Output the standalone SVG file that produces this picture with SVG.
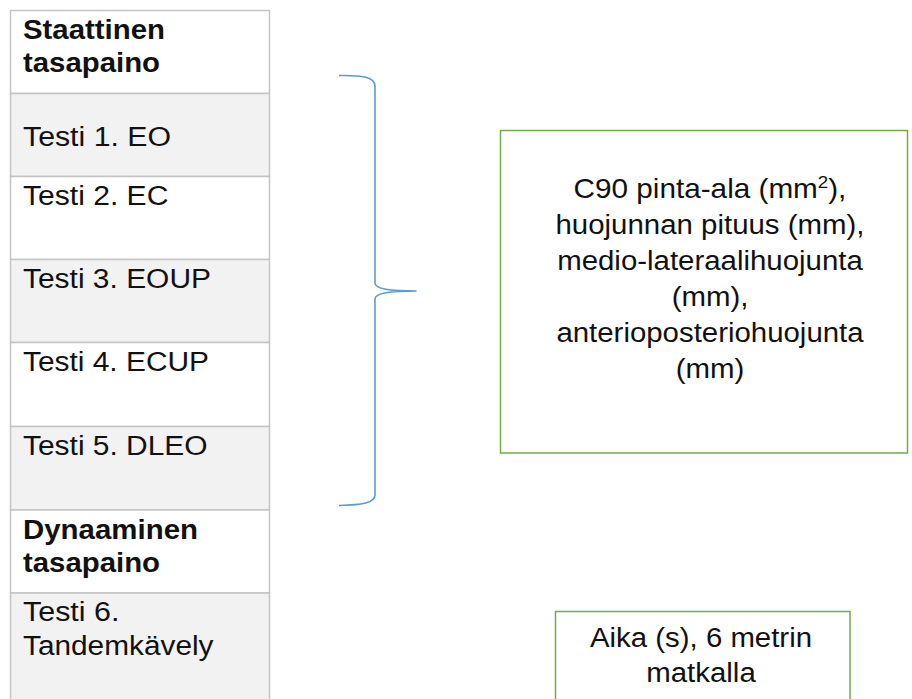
<svg xmlns="http://www.w3.org/2000/svg" width="912" height="699" viewBox="0 0 912 699">
<style>
  .cell { stroke: #c4c4c4; stroke-width: 1.5; }
  .w { fill: #ffffff; }
  .g { fill: #f2f2f2; }
  text { font-family: "Liberation Sans", Arial, sans-serif; font-size: 27px; fill: #111111; }
  .b { font-weight: bold; }
  .c { text-anchor: middle; }
  .box { fill: #ffffff; stroke: #70ad47; stroke-width: 1.5; }
  .brace { fill: none; stroke: #5b9bd5; stroke-width: 1.6; }
</style>
<rect x="0" y="0" width="912" height="699" fill="#ffffff"/>
<g id="table">
  <g id="row-staattinen">
    <rect class="cell w" x="10.5" y="10.5" width="259" height="83"/>
    <text class="b" x="23" y="38.5" textLength="142" lengthAdjust="spacingAndGlyphs">Staattinen</text>
    <text class="b" x="23" y="72" textLength="137" lengthAdjust="spacingAndGlyphs">tasapaino</text>
  </g>
  <g id="row-testi1">
    <rect class="cell g" x="10.5" y="93.5" width="259" height="83"/>
    <text x="23" y="146" textLength="148" lengthAdjust="spacingAndGlyphs">Testi 1. EO</text>
  </g>
  <g id="row-testi2">
    <rect class="cell w" x="10.5" y="176.5" width="259" height="83"/>
    <text x="23" y="205" textLength="145.4" lengthAdjust="spacingAndGlyphs">Testi 2. EC</text>
  </g>
  <g id="row-testi3">
    <rect class="cell g" x="10.5" y="259.5" width="259" height="83"/>
    <text x="23" y="288" textLength="188" lengthAdjust="spacingAndGlyphs">Testi 3. EOUP</text>
  </g>
  <g id="row-testi4">
    <rect class="cell w" x="10.5" y="342.5" width="259" height="84"/>
    <text x="23" y="371" textLength="186" lengthAdjust="spacingAndGlyphs">Testi 4. ECUP</text>
  </g>
  <g id="row-testi5">
    <rect class="cell g" x="10.5" y="426.5" width="259" height="83.5"/>
    <text x="23" y="455" textLength="184.6" lengthAdjust="spacingAndGlyphs">Testi 5. DLEO</text>
  </g>
  <g id="row-dynaaminen">
    <rect class="cell w" x="10.5" y="510" width="259" height="83"/>
    <text class="b" x="23" y="538.5" textLength="175" lengthAdjust="spacingAndGlyphs">Dynaaminen</text>
    <text class="b" x="23" y="572" textLength="137" lengthAdjust="spacingAndGlyphs">tasapaino</text>
  </g>
  <g id="row-testi6">
    <rect class="cell g" x="10.5" y="593" width="259" height="120"/>
    <text x="23" y="621" textLength="96.4" lengthAdjust="spacingAndGlyphs">Testi 6.</text>
    <text x="23" y="655" textLength="190.5" lengthAdjust="spacingAndGlyphs">Tandemkävely</text>
  </g>
</g>
<g id="connectors">
  <path class="brace" d="M339,75.5 C362,75 375,77 375,86 L375,283 C375,289 390,291 416.5,291 C390,291 375,293 375,299 L375,495 C375,503 362,505 339,505.5"/>
</g>
<g id="box-staattinen">
  <rect class="box" x="500.5" y="130.5" width="407" height="322.5"/>
  <text class="c" transform="translate(710,198) scale(1.1,1)">C90 pinta-ala (mm<tspan font-size="17" dy="-10">2</tspan><tspan dy="10">),</tspan></text>
  <text class="c" x="710" y="233.5" textLength="309" lengthAdjust="spacingAndGlyphs">huojunnan pituus (mm),</text>
  <text class="c" x="710" y="269.5" textLength="305.6" lengthAdjust="spacingAndGlyphs">medio-lateraalihuojunta</text>
  <text class="c" x="710" y="305.5" textLength="76.7" lengthAdjust="spacingAndGlyphs">(mm),</text>
  <text class="c" x="710" y="341.5" textLength="307.2" lengthAdjust="spacingAndGlyphs">anterioposteriohuojunta</text>
  <text class="c" x="710" y="377.5" textLength="68.6" lengthAdjust="spacingAndGlyphs">(mm)</text>
</g>
<g id="box-dynaaminen">
  <rect class="box" x="555.5" y="611.5" width="294.5" height="110"/>
  <text class="c" x="701" y="647" textLength="222" lengthAdjust="spacingAndGlyphs">Aika (s), 6 metrin</text>
  <text class="c" x="701" y="682" textLength="109.5" lengthAdjust="spacingAndGlyphs">matkalla</text>
</g>
</svg>
